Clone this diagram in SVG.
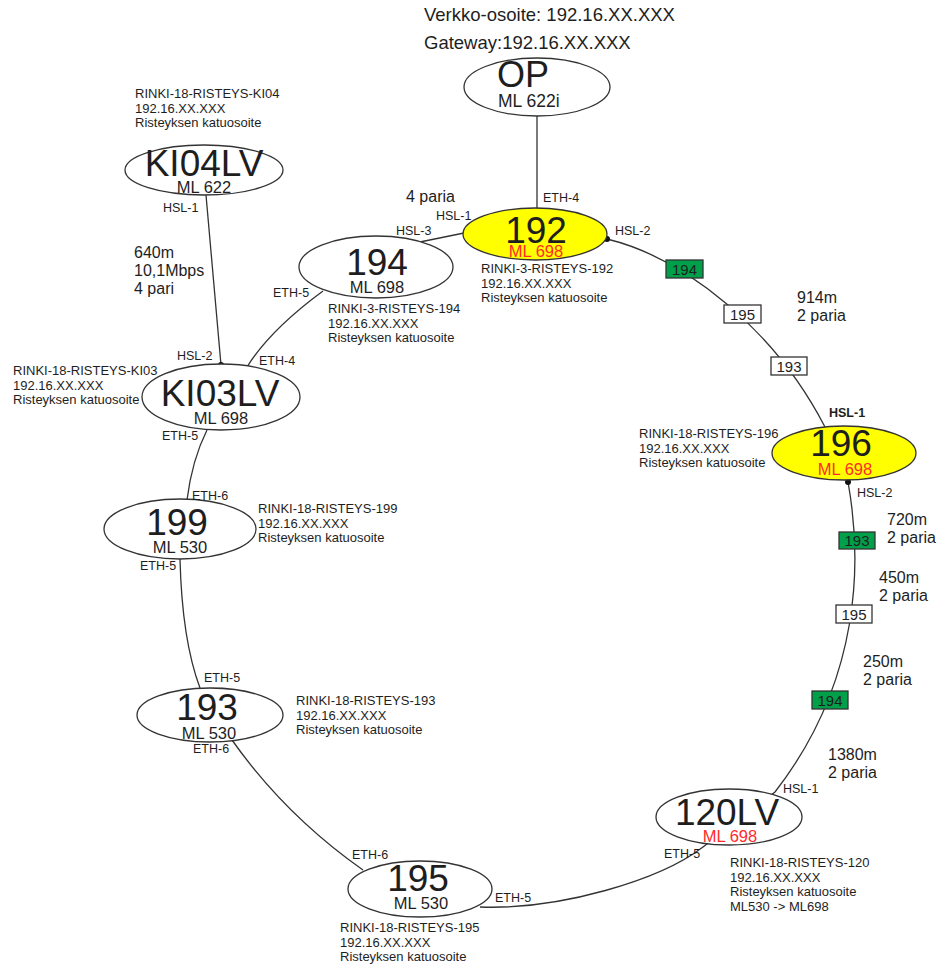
<svg xmlns="http://www.w3.org/2000/svg" width="938" height="965" viewBox="0 0 938 965">
<style>
text{font-family:"Liberation Sans",Arial,sans-serif;fill:#1e1e1e}
.node{fill:#fff;stroke:#333;stroke-width:1.3}
.yel{fill:#ffff00}
.big{font-size:37px;text-anchor:middle}
.ml{font-size:16.5px;text-anchor:middle}
.red{fill:#ff2a2a}
.sm{font-size:13px}
.port{font-size:12.5px}
.dist{font-size:16px}
.wire{fill:none;stroke:#333;stroke-width:1.3}
.box{stroke:#333;stroke-width:1.3}
.bg{fill:#00a04a}
.bw{fill:#fff}
.bt{font-size:15px;text-anchor:middle}
</style>
<rect width="938" height="965" fill="#fff"/>
<g id="connectors">
<path class="wire" d="M537,116 L537,208"/>
<path class="wire" d="M464,233 L415,243"/>
<path class="wire" d="M607,239 C685,258 775,330 825,427"/>
<path class="wire" d="M848,482 C862,560 862,680 775,792 L703,847 C660,880 560,910 480,907"/>
<path class="wire" d="M363,870 Q285,815 232,740"/>
<path class="wire" d="M180,559 Q182,640 200,688"/>
<path class="wire" d="M207,430 Q192,460 187,500"/>
<path class="wire" d="M323,291 Q270,330 247,367"/>
<path class="wire" d="M206,195 L221,365"/>
<circle cx="415" cy="243" r="3" fill="#111"/>
<circle cx="607" cy="239" r="3" fill="#111"/>
<circle cx="221" cy="365" r="3" fill="#111"/>
<circle cx="848" cy="482" r="3" fill="#111"/>
<g id="cable-boxes">
<rect class="box bg" x="666" y="260" width="37" height="18"/><text class="bt" x="684.5" y="275">194</text>
<rect class="box bw" x="724" y="305" width="37" height="18"/><text class="bt" x="742.5" y="320">195</text>
<rect class="box bw" x="771" y="357" width="36" height="18"/><text class="bt" x="789" y="372">193</text>
<rect class="box bg" x="839" y="532" width="36" height="17"/><text class="bt" x="857" y="546">193</text>
<rect class="box bw" x="836" y="605" width="36" height="18"/><text class="bt" x="854" y="620">195</text>
<rect class="box bg" x="812" y="691" width="36" height="18"/><text class="bt" x="830" y="706">194</text>
</g>
</g>
<g id="header">
<text x="424" y="21" font-size="18.5">Verkko-osoite: 192.16.XX.XXX</text>
<text x="424" y="49" font-size="18.5">Gateway:192.16.XX.XXX</text>
</g>
<g id="node-OP">
<ellipse class="node" cx="537" cy="87" rx="73" ry="29"/>
<text x="497" y="87" font-size="36">OP</text>
<text x="498" y="107" font-size="17.5">ML 622i</text>
</g>
<g id="node-192">
<ellipse class="node yel" cx="535" cy="234" rx="72" ry="26"/>
<text class="big" x="536" y="243">192</text>
<text class="ml red" x="536" y="257">ML 698</text>
<text class="port" x="543" y="202">ETH-4</text>
<text class="port" x="436" y="220">HSL-1</text>
<text class="port" x="615" y="235">HSL-2</text>
<text class="sm" x="481" y="273">RINKI-3-RISTEYS-192</text>
<text class="sm" x="481" y="287.5">192.16.XX.XXX</text>
<text class="sm" x="481" y="302">Risteyksen katuosoite</text>
</g>
<g id="node-194">
<ellipse class="node" cx="376" cy="267" rx="77" ry="31"/>
<text class="big" x="377" y="275">194</text>
<text class="ml" x="377" y="293">ML 698</text>
<text class="port" x="396" y="235">HSL-3</text>
<text class="port" x="273" y="297">ETH-5</text>
<text class="sm" x="328" y="313">RINKI-3-RISTEYS-194</text>
<text class="sm" x="328" y="327.5">192.16.XX.XXX</text>
<text class="sm" x="328" y="342">Risteyksen katuosoite</text>
</g>
<g id="node-KI04LV">
<ellipse class="node" cx="204" cy="170" rx="79" ry="25"/>
<text class="big" x="204" y="176">KI04LV</text>
<text class="ml" x="204" y="193">ML 622</text>
<text class="port" x="163" y="212">HSL-1</text>
<text class="sm" x="135" y="98">RINKI-18-RISTEYS-KI04</text>
<text class="sm" x="135" y="112.5">192.16.XX.XXX</text>
<text class="sm" x="135" y="127">Risteyksen katuosoite</text>
</g>
<g id="node-KI03LV">
<ellipse class="node" cx="221" cy="397" rx="79" ry="33"/>
<text class="big" x="220" y="406">KI03LV</text>
<text class="ml" x="221" y="424">ML 698</text>
<text class="port" x="177" y="360">HSL-2</text>
<text class="port" x="259" y="365">ETH-4</text>
<text class="port" x="162" y="440">ETH-5</text>
<text class="sm" x="13" y="375">RINKI-18-RISTEYS-KI03</text>
<text class="sm" x="13" y="389.5">192.16.XX.XXX</text>
<text class="sm" x="13" y="404">Risteyksen katuosoite</text>
</g>
<g id="node-199">
<ellipse class="node" cx="180" cy="529" rx="76" ry="30"/>
<text class="big" x="177" y="535">199</text>
<text class="ml" x="180" y="553">ML 530</text>
<text class="port" x="192" y="500">ETH-6</text>
<text class="port" x="140" y="570">ETH-5</text>
<text class="sm" x="258" y="513">RINKI-18-RISTEYS-199</text>
<text class="sm" x="258" y="527.5">192.16.XX.XXX</text>
<text class="sm" x="258" y="542">Risteyksen katuosoite</text>
</g>
<g id="node-193">
<ellipse class="node" cx="210" cy="715" rx="73" ry="27"/>
<text class="big" x="207" y="720">193</text>
<text class="ml" x="209" y="739">ML 530</text>
<text class="port" x="204" y="682">ETH-5</text>
<text class="port" x="193" y="753">ETH-6</text>
<text class="sm" x="296" y="705">RINKI-18-RISTEYS-193</text>
<text class="sm" x="296" y="719.5">192.16.XX.XXX</text>
<text class="sm" x="296" y="734">Risteyksen katuosoite</text>
</g>
<g id="node-195">
<ellipse class="node" cx="420" cy="889" rx="72" ry="28"/>
<text class="big" x="418" y="891">195</text>
<text class="ml" x="421" y="909">ML 530</text>
<text class="port" x="352" y="859">ETH-6</text>
<text class="port" x="495" y="902">ETH-5</text>
<text class="sm" x="340" y="932">RINKI-18-RISTEYS-195</text>
<text class="sm" x="340" y="946.5">192.16.XX.XXX</text>
<text class="sm" x="340" y="961">Risteyksen katuosoite</text>
</g>
<g id="node-120LV">
<ellipse class="node" cx="729" cy="817" rx="73" ry="28"/>
<text class="big" x="727" y="825">120LV</text>
<text class="ml red" x="730" y="842">ML 698</text>
<text class="port" x="783" y="793">HSL-1</text>
<text class="port" x="664" y="858">ETH-5</text>
<text class="sm" x="730" y="867">RINKI-18-RISTEYS-120</text>
<text class="sm" x="730" y="881.5">192.16.XX.XXX</text>
<text class="sm" x="730" y="896">Risteyksen katuosoite</text>
<text class="sm" x="730" y="910.5">ML530 -&gt; ML698</text>
</g>
<g id="node-196">
<ellipse class="node yel" cx="844" cy="453" rx="72" ry="27"/>
<text class="big" x="841" y="456">196</text>
<text class="ml red" x="845" y="475">ML 698</text>
<text class="port" x="829" y="417" font-weight="bold">HSL-1</text>
<text class="port" x="857" y="497">HSL-2</text>
<text class="sm" x="639" y="438">RINKI-18-RISTEYS-196</text>
<text class="sm" x="639" y="452.5">192.16.XX.XXX</text>
<text class="sm" x="639" y="467">Risteyksen katuosoite</text>
</g>
<g id="distances">
<text class="dist" x="406" y="202">4 paria</text>
<text class="dist" x="134" y="258">640m</text>
<text class="dist" x="134" y="276">10,1Mbps</text>
<text class="dist" x="134" y="294">4 pari</text>
<text class="dist" x="797" y="303">914m</text>
<text class="dist" x="797" y="321">2 paria</text>
<text class="dist" x="887" y="525">720m</text>
<text class="dist" x="887" y="543">2 paria</text>
<text class="dist" x="879" y="583">450m</text>
<text class="dist" x="879" y="601">2 paria</text>
<text class="dist" x="863" y="667">250m</text>
<text class="dist" x="863" y="685">2 paria</text>
<text class="dist" x="828" y="760">1380m</text>
<text class="dist" x="828" y="778">2 paria</text>
</g>
</svg>
